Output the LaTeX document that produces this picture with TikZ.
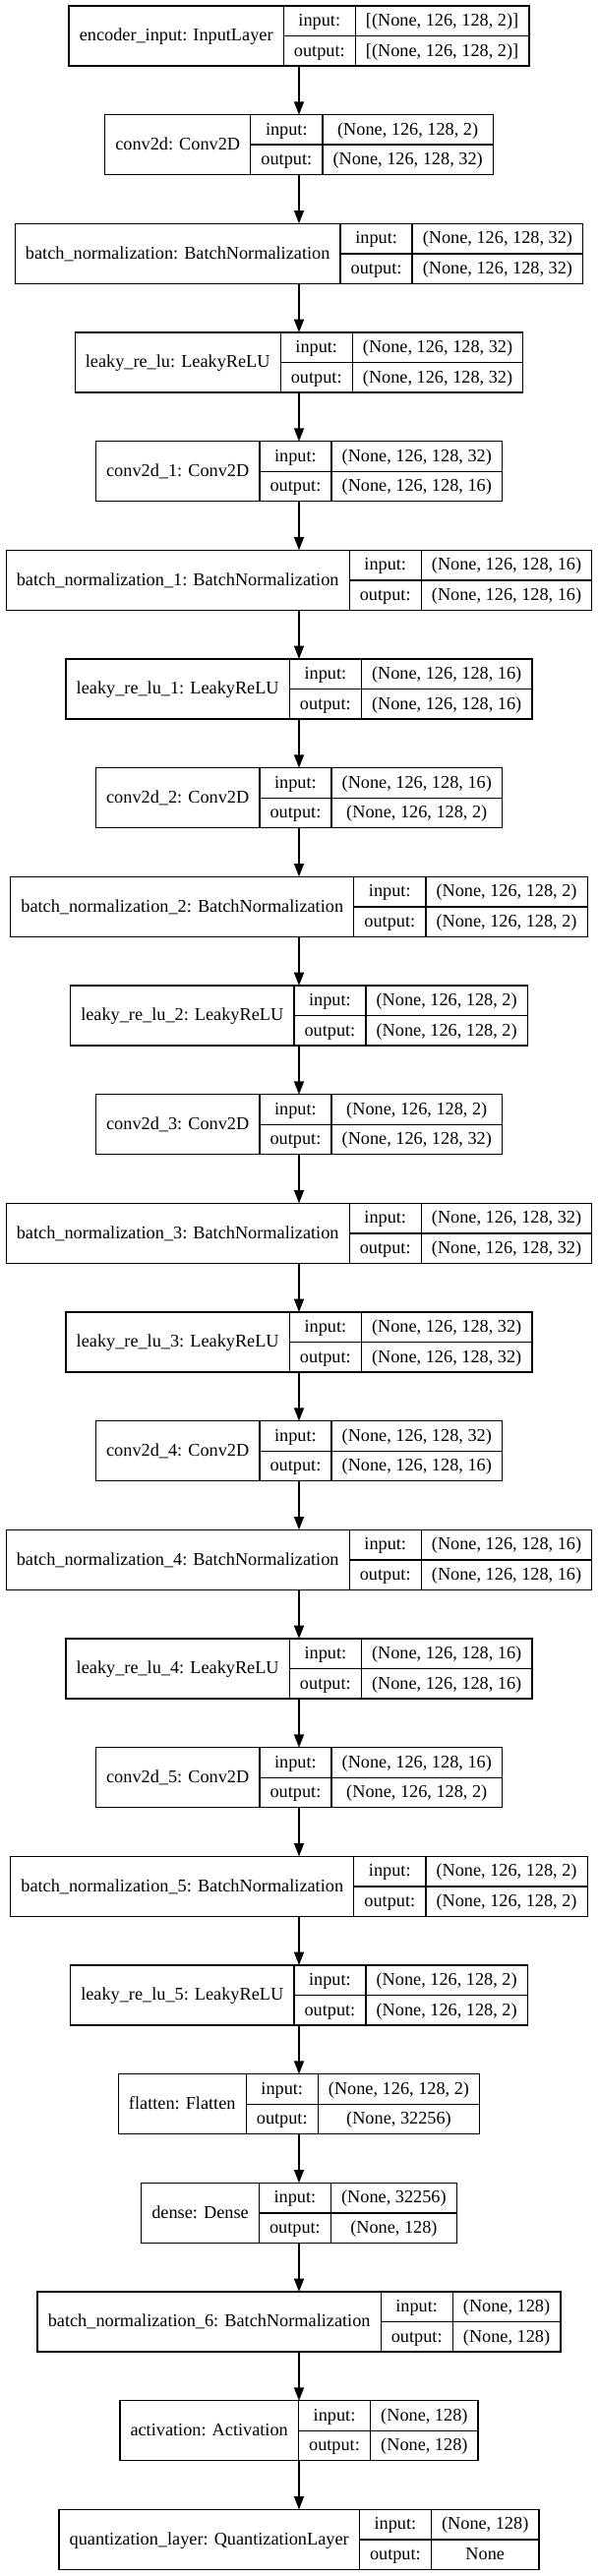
\documentclass[tikz,border=0pt]{standalone}
\usepackage{fontspec}
\setmainfont{Liberation Serif}
\usepackage{tikz}
\usetikzlibrary{arrows.meta}

\tikzset{
  layer/.style={draw, line width=1pt, inner sep=0pt, outer sep=0pt, anchor=north},
  cell/.style={line width=1pt},
  txt/.style={draw=none, inner xsep=8pt, inner ysep=0pt, outer sep=0pt,
    font=\fontsize{13.7}{16}\selectfont, text height=9.5pt, text depth=1.5pt},
  title/.style={txt, anchor=center, minimum height=45.75pt},
  half/.style={txt, minimum height=22.875pt},
  flow/.style={line width=1pt, -{Triangle[length=10pt, width=7.5pt]}}
}

% one keras layer: name, top, title, input shape, output shape
\newcommand\layer[5]{%
  \matrix[layer, ampersand replacement=\&] (#1) at (228,#2) {
    \node[title] (#1-n) at (0pt,0pt) {#3}; \&
    \node[half, anchor=south] (#1-i) at (0pt,0pt) {input:};
    \node[half, anchor=north] (#1-o) at (0pt,0pt) {output:}; \&
    \node[half, anchor=south] (#1-iv) at (0pt,0pt) {#4};
    \node[half, anchor=north] (#1-ov) at (0pt,0pt) {#5}; \\
  };
  \draw[cell] (#1-n.east |- #1.north) -- (#1-n.east |- #1.south);
  \draw[cell] (#1-o.east |- #1.north) -- (#1-o.east |- #1.south);
  \draw[cell] (#1-n.east |- #1-o.north) -- (#1.east |- #1-o.north);
}

\begin{document}
\begin{tikzpicture}[x=1pt, y=-1pt]
  \useasboundingbox (0,0) rectangle (456,1964.25);

  \layer{inp}{4.5}{encoder\_input: InputLayer}{[(None, 126, 128, 2)]}{[(None, 126, 128, 2)]}
  \layer{conv0}{87.5}{conv2d: Conv2D}{(None, 126, 128, 2)}{(None, 126, 128, 32)}
  \layer{bn0}{170.5}{batch\_normalization: BatchNormalization}{(None, 126, 128, 32)}{(None, 126, 128, 32)}
  \layer{lrelu0}{253.5}{leaky\_re\_lu: LeakyReLU}{(None, 126, 128, 32)}{(None, 126, 128, 32)}
  \layer{conv1}{336.5}{conv2d\_1: Conv2D}{(None, 126, 128, 32)}{(None, 126, 128, 16)}
  \layer{bn1}{419.5}{batch\_normalization\_1: BatchNormalization}{(None, 126, 128, 16)}{(None, 126, 128, 16)}
  \layer{lrelu1}{502.5}{leaky\_re\_lu\_1: LeakyReLU}{(None, 126, 128, 16)}{(None, 126, 128, 16)}
  \layer{conv2}{585.5}{conv2d\_2: Conv2D}{(None, 126, 128, 16)}{(None, 126, 128, 2)}
  \layer{bn2}{668.5}{batch\_normalization\_2: BatchNormalization}{(None, 126, 128, 2)}{(None, 126, 128, 2)}
  \layer{lrelu2}{751.5}{leaky\_re\_lu\_2: LeakyReLU}{(None, 126, 128, 2)}{(None, 126, 128, 2)}
  \layer{conv3}{834.5}{conv2d\_3: Conv2D}{(None, 126, 128, 2)}{(None, 126, 128, 32)}
  \layer{bn3}{917.5}{batch\_normalization\_3: BatchNormalization}{(None, 126, 128, 32)}{(None, 126, 128, 32)}
  \layer{lrelu3}{1000.5}{leaky\_re\_lu\_3: LeakyReLU}{(None, 126, 128, 32)}{(None, 126, 128, 32)}
  \layer{conv4}{1083.5}{conv2d\_4: Conv2D}{(None, 126, 128, 32)}{(None, 126, 128, 16)}
  \layer{bn4}{1166.5}{batch\_normalization\_4: BatchNormalization}{(None, 126, 128, 16)}{(None, 126, 128, 16)}
  \layer{lrelu4}{1249.5}{leaky\_re\_lu\_4: LeakyReLU}{(None, 126, 128, 16)}{(None, 126, 128, 16)}
  \layer{conv5}{1332.5}{conv2d\_5: Conv2D}{(None, 126, 128, 16)}{(None, 126, 128, 2)}
  \layer{bn5}{1415.5}{batch\_normalization\_5: BatchNormalization}{(None, 126, 128, 2)}{(None, 126, 128, 2)}
  \layer{lrelu5}{1498.5}{leaky\_re\_lu\_5: LeakyReLU}{(None, 126, 128, 2)}{(None, 126, 128, 2)}
  \layer{flat}{1581.5}{flatten: Flatten}{(None, 126, 128, 2)}{(None, 32256)}
  \layer{dense}{1664.5}{dense: Dense}{(None, 32256)}{(None, 128)}
  \layer{bn6}{1747.5}{batch\_normalization\_6: BatchNormalization}{(None, 128)}{(None, 128)}
  \layer{act}{1830.5}{activation: Activation}{(None, 128)}{(None, 128)}
  \layer{quant}{1913.5}{quantization\_layer: QuantizationLayer}{(None, 128)}{None}

  \draw[flow] (inp) -- (conv0);
  \draw[flow] (conv0) -- (bn0);
  \draw[flow] (bn0) -- (lrelu0);
  \draw[flow] (lrelu0) -- (conv1);
  \draw[flow] (conv1) -- (bn1);
  \draw[flow] (bn1) -- (lrelu1);
  \draw[flow] (lrelu1) -- (conv2);
  \draw[flow] (conv2) -- (bn2);
  \draw[flow] (bn2) -- (lrelu2);
  \draw[flow] (lrelu2) -- (conv3);
  \draw[flow] (conv3) -- (bn3);
  \draw[flow] (bn3) -- (lrelu3);
  \draw[flow] (lrelu3) -- (conv4);
  \draw[flow] (conv4) -- (bn4);
  \draw[flow] (bn4) -- (lrelu4);
  \draw[flow] (lrelu4) -- (conv5);
  \draw[flow] (conv5) -- (bn5);
  \draw[flow] (bn5) -- (lrelu5);
  \draw[flow] (lrelu5) -- (flat);
  \draw[flow] (flat) -- (dense);
  \draw[flow] (dense) -- (bn6);
  \draw[flow] (bn6) -- (act);
  \draw[flow] (act) -- (quant);
\end{tikzpicture}
\end{document}
